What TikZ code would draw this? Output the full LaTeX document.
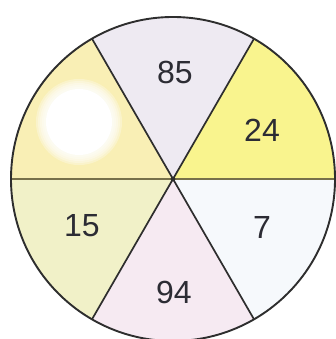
\documentclass[tikz,border=0pt]{standalone}
\usepackage{fontspec}
\setmainfont{Liberation Sans}
\definecolor{secA}{HTML}{F9EFB5}
\definecolor{secB}{HTML}{EEEAF2}
\definecolor{secC}{HTML}{F9F48E}
\definecolor{secD}{HTML}{F6F9FC}
\definecolor{secE}{HTML}{F6EAF2}
\definecolor{secF}{HTML}{F1F1C8}
\definecolor{rim}{HTML}{2E2E2E}
\definecolor{hline}{HTML}{77704A}
\definecolor{digit}{HTML}{2C2C34}
\begin{document}
\begin{tikzpicture}[x=1pt,y=-1pt,
  numlabel/.style={inner sep=0pt,text=digit,font=\fontsize{32}{32}\selectfont},
  spoke/.style={draw=rim,line width=1.7pt}]
\useasboundingbox (0,0) rectangle (336,339);
\fill[white] (0,0) rectangle (336,339);
\coordinate (O) at (173,179);
\def\R{162}
% sectors (y axis points down, so angles 180-360 are the upper half)
\fill[secC] (O) -- ++(300:\R) arc[start angle=300,end angle=360,radius=\R] -- cycle;
\fill[secB] (O) -- ++(240:\R) arc[start angle=240,end angle=300,radius=\R] -- cycle;
\fill[secA] (O) -- ++(180:\R) arc[start angle=180,end angle=240,radius=\R] -- cycle;
\fill[secF] (O) -- ++(120:\R) arc[start angle=120,end angle=180,radius=\R] -- cycle;
\fill[secE] (O) -- ++(60:\R) arc[start angle=60,end angle=120,radius=\R] -- cycle;
\fill[secD] (O) -- ++(0:\R) arc[start angle=0,end angle=60,radius=\R] -- cycle;
% blurred white spot
\foreach \r in {43,41,39,37,35}{\fill[white,opacity=0.3] (79,122) circle[radius=\r];}
\fill[white] (79,122) circle[radius=33];
% spokes
\path (O) ++(60:\R) coordinate (e60) (O) ++(120:\R) coordinate (e120)
      (O) ++(240:\R) coordinate (e240) (O) ++(300:\R) coordinate (e300)
      (O) ++(0:\R) coordinate (e0) (O) ++(180:\R) coordinate (e180);
\draw[spoke] (e60) -- (e240);
\draw[spoke] (e120) -- (e300);
\draw[draw=hline,line width=2.6pt] (e180) -- (e0);
\fill[rim] (O) circle[radius=2.4];
\draw[rim,line width=1.9pt] (O) circle[radius=\R];
% labels
\node[numlabel] (n85) at (175,72) {85};
\node[numlabel] (n24) at (262,130) {24};
\node[numlabel] (n15) at (82,226) {15};
\node[numlabel] (n7) at (262,227) {7};
\node[numlabel] (n94) at (174,292) {94};
\end{tikzpicture}
\end{document}
